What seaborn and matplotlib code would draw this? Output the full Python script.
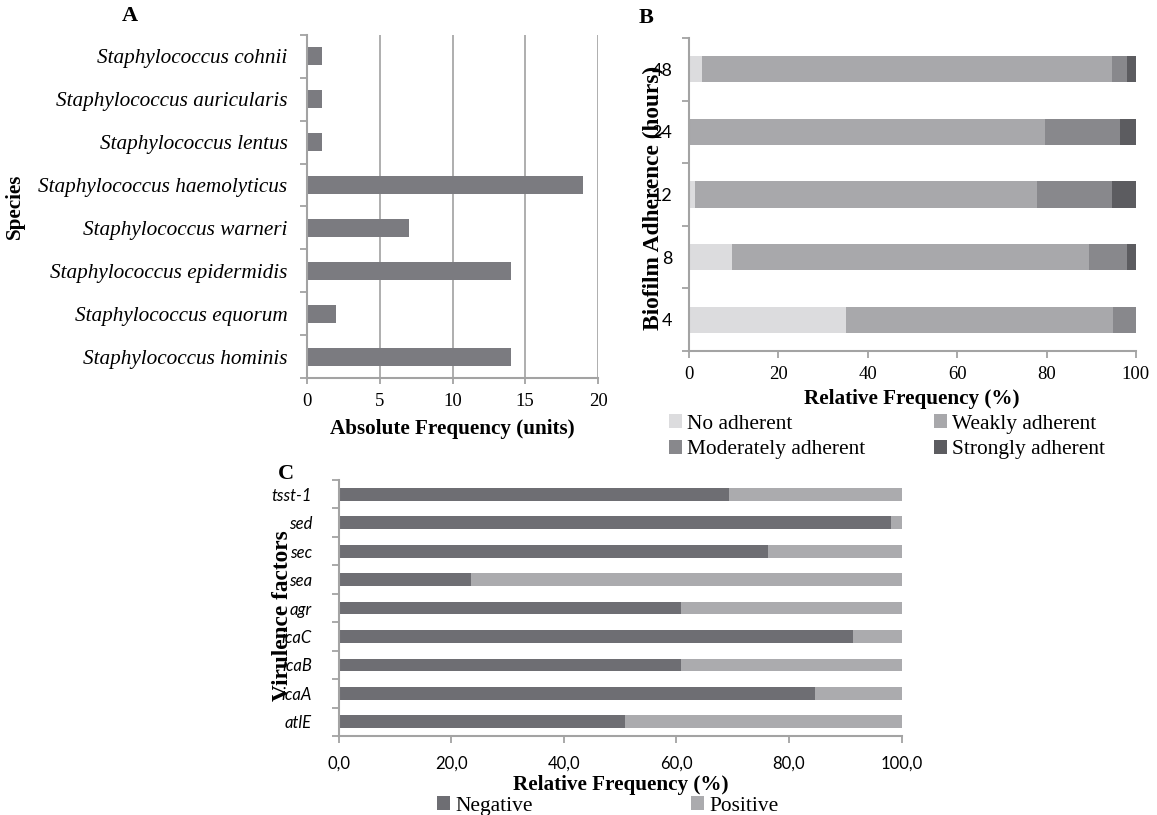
import numpy as np
import pandas as pd
import matplotlib
matplotlib.use("Agg")
import matplotlib.pyplot as plt
import seaborn as sns
from matplotlib.patches import Patch

# ---- data -------------------------------------------------------------
species = ["Staphylococcus cohnii", "Staphylococcus auricularis",
           "Staphylococcus lentus", "Staphylococcus haemolyticus",
           "Staphylococcus warneri", "Staphylococcus epidermidis",
           "Staphylococcus equorum", "Staphylococcus hominis"]
species_counts = [1, 1, 1, 19, 7, 14, 2, 14]

hours = ["48", "24", "12", "8", "4"]
no_adherent = [2.8, 0.0, 1.3, 9.7, 35.2]
weakly_adherent = [91.9, 79.6, 76.6, 79.9, 59.7]
moderately_adherent = [3.4, 16.9, 16.8, 8.5, 5.1]
strongly_adherent = [1.9, 3.5, 5.3, 1.9, 0.0]
adherence_levels = ["No adherent", "Weakly adherent",
                    "Moderately adherent", "Strongly adherent"]

genes = ["tsst-1", "sed", "sec", "sea", "agr", "icaC", "icaB", "icaA", "atlE"]
negative = [69.4, 98.2, 76.2, 23.6, 60.9, 91.3, 60.9, 84.7, 50.8]
positive = [30.6, 1.8, 23.8, 76.4, 39.1, 8.7, 39.1, 15.3, 49.2]

# ---- style ------------------------------------------------------------
SERIF = "Liberation Serif"
SANS = "Lato"
SPINE = "#a3a3a3"
LABEL_SIZE = 15.2
plt.rcParams["font.family"] = SERIF
plt.rcParams["axes.linewidth"] = 1.5

fig = plt.figure(figsize=(11.57, 8.15), dpi=100)
fig.patch.set_facecolor("white")


def boundary_ticks(ax, n, pad):
    """Excel-like ticks between categories on the y axis."""
    ax.set_yticks(np.arange(n + 1) - 0.5, minor=True)
    ax.tick_params(axis="y", which="major", length=0, pad=pad)
    ax.tick_params(axis="y", which="minor", length=5, width=1.3, color=SPINE)
    ax.spines["left"].set_color(SPINE)
    ax.spines["bottom"].set_color(SPINE)
    for s in ("top", "right"):
        ax.spines[s].set_visible(False)


def stacked(ax, cats, layers, colors, width):
    """Horizontal stacked bars: draw cumulative totals back to front."""
    cum = np.cumsum(np.array(layers), axis=0)
    for i in range(len(layers) - 1, -1, -1):
        df = pd.DataFrame({"cat": cats, "val": cum[i]})
        sns.barplot(data=df, x="val", y="cat", order=cats, orient="h",
                    color=colors[i], saturation=1, width=width, ax=ax,
                    linewidth=0)


# ---- panel A ----------------------------------------------------------
axA = fig.add_axes([0.2653, 0.5362, 0.2516, 0.4209])
dfA = pd.DataFrame({"species": species, "count": species_counts})
sns.barplot(data=dfA, x="count", y="species", order=species, orient="h",
            color="#7b7b80", saturation=1, width=0.42, ax=axA, linewidth=0)
axA.set_xlim(0, 20)
axA.set_xticks([0, 5, 10, 15, 20])
axA.xaxis.grid(True, color="#a8a8a8", linewidth=1.3)
axA.set_axisbelow(True)
axA.tick_params(axis="x", length=4, width=1.3, color=SPINE, pad=7, labelsize=13.5)
boundary_ticks(axA, len(species), pad=14)
for t in axA.get_yticklabels():
    t.set_fontstyle("italic")
    t.set_fontsize(15.3)
axA.set_xlabel("Absolute Frequency (units)", fontsize=LABEL_SIZE, fontweight="bold")
axA.set_ylabel("Species", fontsize=LABEL_SIZE, fontweight="bold")
axA.xaxis.set_label_coords(0.50, -0.12)
axA.yaxis.set_label_coords(-0.969, 0.50)

# ---- panel B ----------------------------------------------------------
axB = fig.add_axes([0.5955, 0.5693, 0.3863, 0.3841])
colorsB = ["#dcdcde", "#a8a8ab", "#88888c", "#5c5c60"]
stacked(axB, hours,
        [no_adherent, weakly_adherent, moderately_adherent, strongly_adherent],
        colorsB, 0.42)
axB.set_xlim(0, 100)
axB.set_xticks(np.arange(0, 101, 20))
axB.tick_params(axis="x", length=5, width=1.3, color=SPINE, pad=6, labelsize=13.5)
boundary_ticks(axB, len(hours), pad=12)
for t in axB.get_yticklabels():
    t.set_fontfamily(SANS)
    t.set_fontsize(13)
axB.set_xlabel("Relative Frequency (%)", fontsize=LABEL_SIZE, fontweight="bold")
axB.set_ylabel("Biofilm Adherence (hours)", fontsize=16.8, fontweight="bold")
axB.xaxis.set_label_coords(0.499, -0.121)
axB.yaxis.set_label_coords(-0.056, 0.49)
order_idx = [0, 2, 1, 3]
handlesB = [Patch(facecolor=colorsB[i], label=adherence_levels[i]) for i in order_idx]
fig.legend(handles=handlesB, loc="upper left", bbox_to_anchor=(0.5618, 0.5154),
           ncol=2, frameon=False, fontsize=15.4, handlelength=0.6,
           handleheight=0.6, handletextpad=0.25, columnspacing=3.2,
           labelspacing=0.3)

# ---- panel C ----------------------------------------------------------
axC = fig.add_axes([0.2926, 0.0969, 0.4866, 0.3141])
colorsC = ["#6e6e73", "#ababae"]
stacked(axC, genes, [negative, positive], colorsC, 0.45)
axC.set_xlim(0, 100)
axC.set_xticks(np.arange(0, 101, 20))
axC.set_xticklabels([f"{v:.1f}".replace(".", ",") for v in np.arange(0, 101, 20)])
axC.tick_params(axis="x", length=5, width=1.3, color=SPINE, pad=9)
boundary_ticks(axC, len(genes), pad=19)
for t in axC.get_yticklabels():
    t.set_fontfamily(SANS)
    t.set_fontstyle("italic")
    t.set_fontsize(12)
for t in axC.get_xticklabels():
    t.set_fontfamily(SANS)
    t.set_fontsize(12)
axC.set_xlabel("Relative Frequency (%)", fontsize=LABEL_SIZE, fontweight="bold")
axC.set_ylabel("Virulence factors", fontsize=16.8, fontweight="bold")
axC.xaxis.set_label_coords(0.502, -0.153)
axC.yaxis.set_label_coords(-0.081, 0.47)
handlesC = [Patch(facecolor=colorsC[0], label="Negative"),
            Patch(facecolor=colorsC[1], label="Positive")]
fig.legend(handles=handlesC, loc="upper left", bbox_to_anchor=(0.3688, 0.036),
           ncol=2, frameon=False, fontsize=15.4, handlelength=0.6,
           handleheight=0.6, handletextpad=0.25, columnspacing=7.4,
           borderpad=0.0)

# ---- panel letters ----------------------------------------------------
fig.text(130 / 1157, 1 - 16 / 815, "A", fontsize=16, fontweight="bold", ha="center", va="center")
fig.text(646 / 1157, 1 - 18 / 815, "B", fontsize=16, fontweight="bold", ha="center", va="center")
fig.text(286 / 1157, 1 - 474 / 815, "C", fontsize=16, fontweight="bold", ha="center", va="center")

fig.savefig("out.png", dpi=100, facecolor="white")
